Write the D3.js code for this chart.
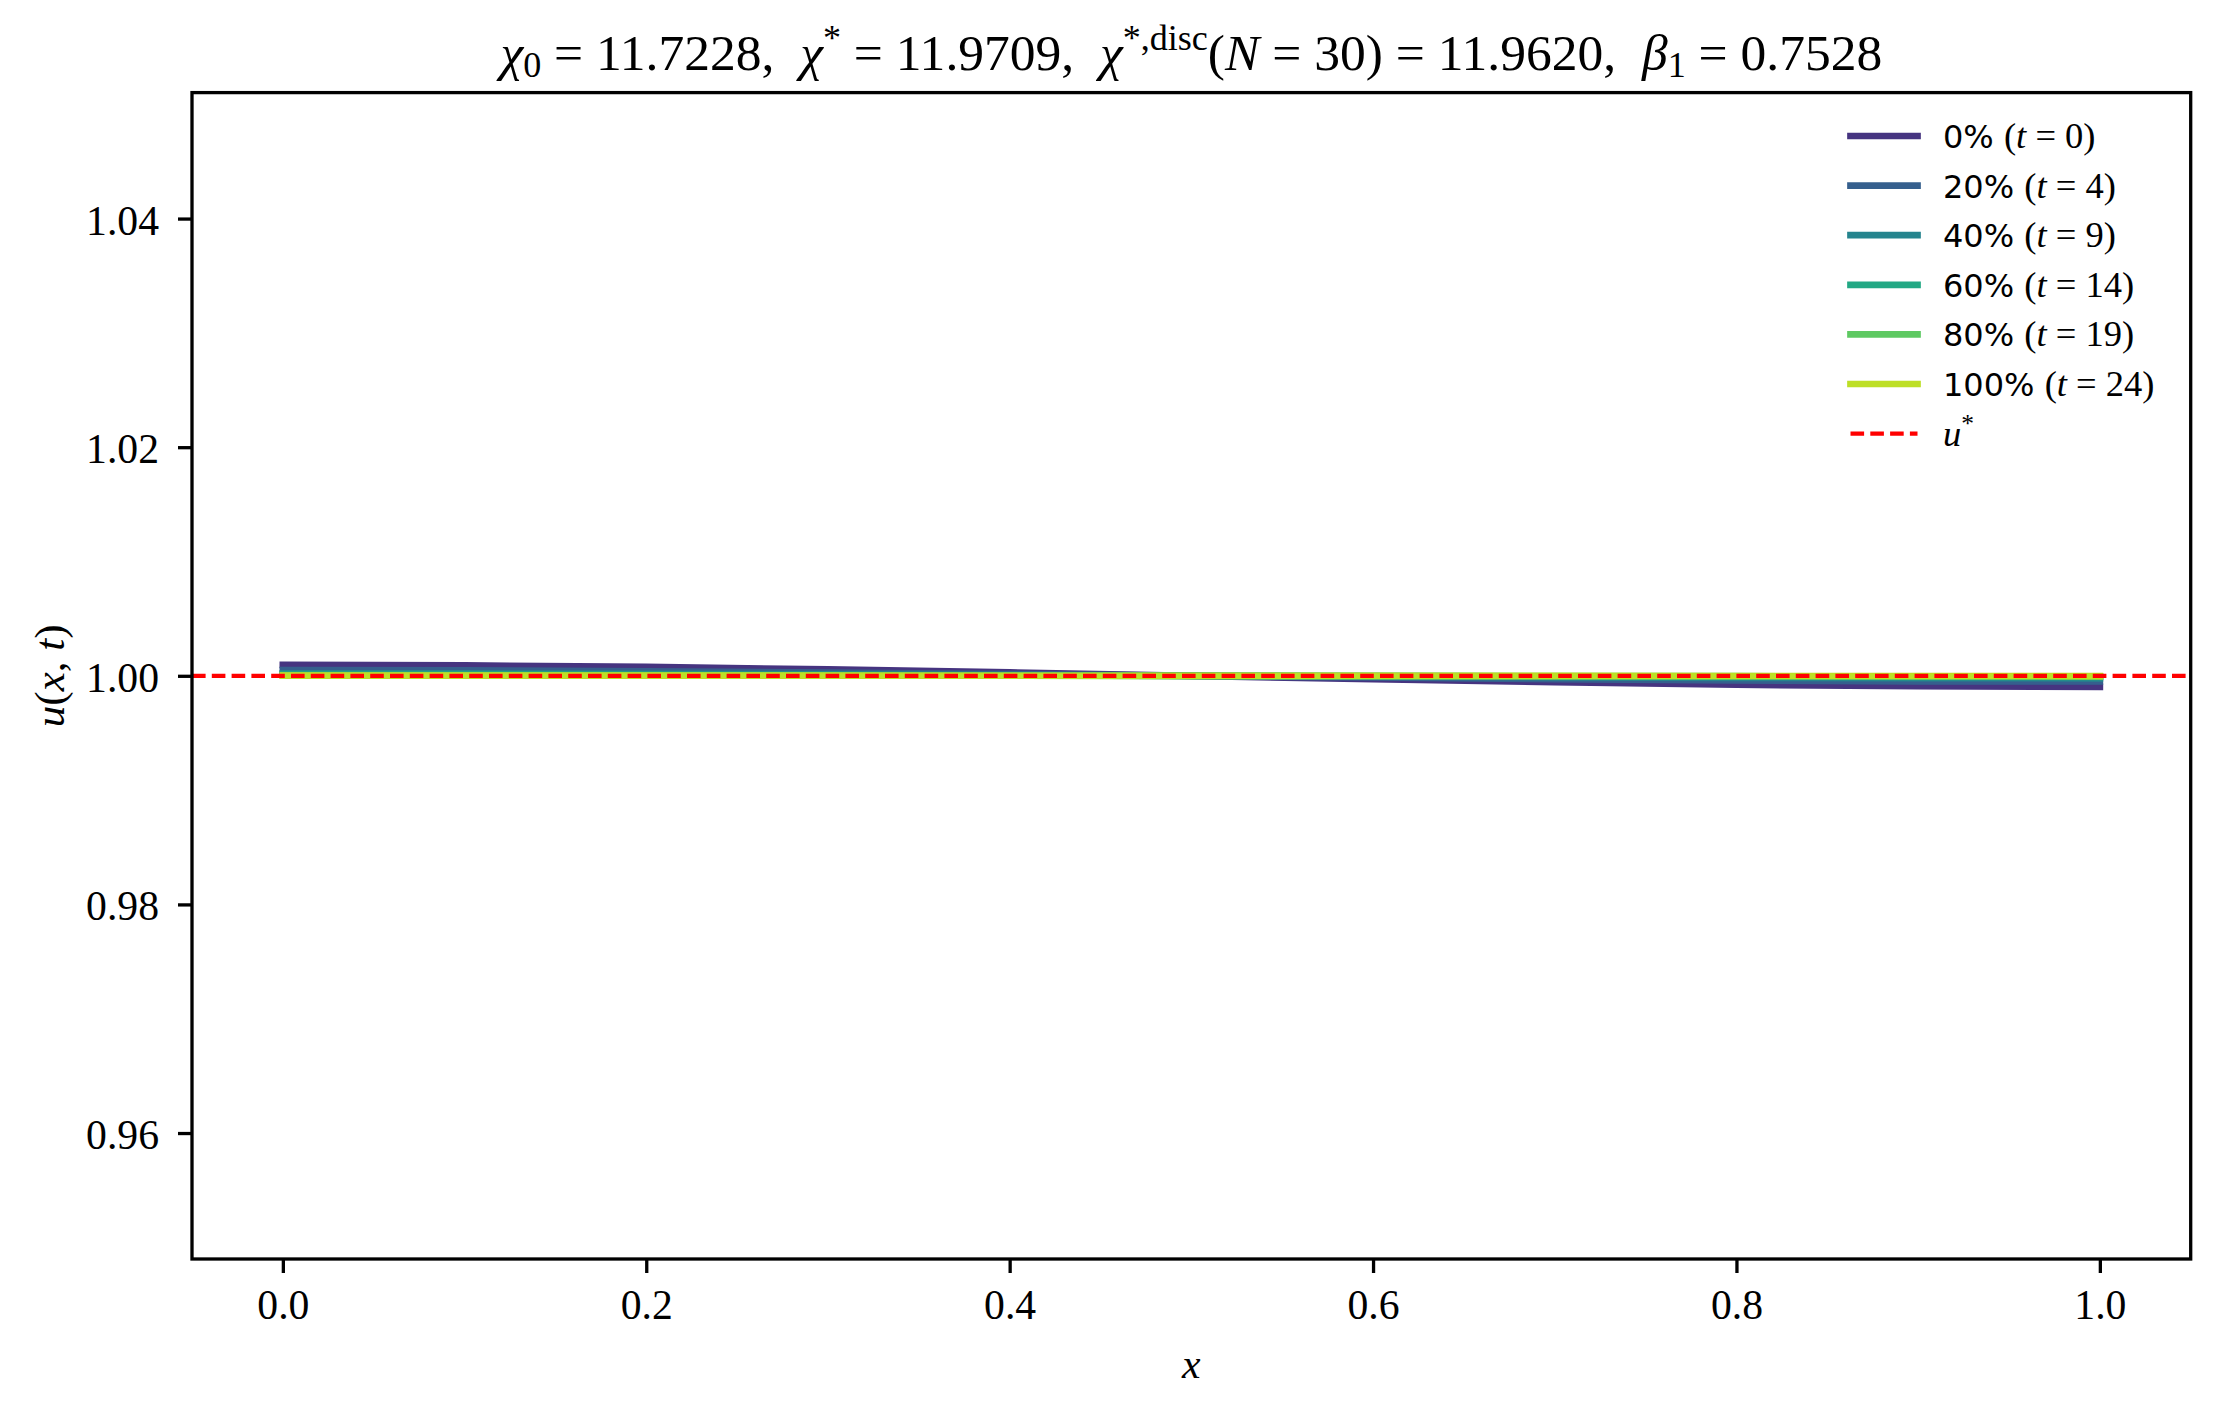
<!DOCTYPE html>
<html>
<head>
<meta charset="utf-8">
<script src="https://cdn.jsdelivr.net/npm/d3@7"></script>
<style>
  body { margin: 0; background: #fff; }
  text { white-space: pre; }
</style>
</head>
<body>
<svg id="chart" width="2220" height="1409"></svg>
<script>
// grid and profiles u(x,t)
var xGrid = [0, 0.1, 0.2, 0.3, 0.4, 0.5, 0.6, 0.7, 0.8, 0.9, 1.0];
var u_t0  = [1.00096, 1.00091, 1.00078, 1.00056, 1.00030, 1.00000, 0.99970, 0.99944, 0.99922, 0.99909, 0.99903];
var u_t4  = [1.00050, 1.00048, 1.00040, 1.00029, 1.00015, 1.00000, 0.99985, 0.99971, 0.99960, 0.99952, 0.99950];
var u_t9  = [1.00022, 1.00021, 1.00018, 1.00013, 1.00007, 1.00000, 0.99993, 0.99987, 0.99982, 0.99979, 0.99978];
var u_t14 = [1.00010, 1.00010, 1.00008, 1.00006, 1.00003, 1.00000, 0.99997, 0.99994, 0.99992, 0.99990, 0.99990];
var u_t19 = [1.000045, 1.000043, 1.000036, 1.000026, 1.000014, 1.0, 0.999986, 0.999974, 0.999964, 0.999957, 0.999955];
var u_t24 = [1.00002, 1.000019, 1.000016, 1.000012, 1.000006, 1.0, 0.999994, 0.999988, 0.999984, 0.999981, 0.99998];
var uStar = 1.0;

var pctLabels = ["0%", "20%", "40%", "60%", "80%", "100%"];
var tValues = [0, 4, 9, 14, 19, 24];
var series = [u_t0, u_t4, u_t9, u_t14, u_t19, u_t24];

var xTicks = [0.0, 0.2, 0.4, 0.6, 0.8, 1.0];
var yTicks = [0.96, 0.98, 1.00, 1.02, 1.04];

var serif = "'Liberation Serif', 'DejaVu Serif', serif";
var sans = "'DejaVu Sans', sans-serif";

var axL = 192, axR = 2190.7, axT = 92.6, axB = 1259;

var svg = d3.select('#chart');
svg.append('rect').attr('width', 2220).attr('height', 1409).attr('fill', 'white');

var x = d3.scaleLinear().domain([-0.05, 1.05]).range([axL, axR]);
var y = d3.scaleLinear().domain([0.94898, 1.05102]).range([axB, axT]);

// write text made of pieces (italic, sub, sup)
function rich(sel, parts, size) {
    var shift = 0;
    parts.forEach(function(p){
        var ts = sel.append('tspan').text(p.t);
        var target = p.sup ? -0.38*size : (p.sub ? 0.13*size : 0);
        if (target - shift !== 0) ts.attr('dy', target - shift);
        shift = target;
        if (p.sup || p.sub) ts.attr('font-size', size*0.7);
        else if (p.s) ts.attr('font-size', p.s);
        if (p.i) ts.attr('font-style', 'italic');
        if (p.f) ts.attr('font-family', p.f);
    });
}

// axes
var yAxis = svg.append('g')
    .attr('transform', 'translate(' + axL + ',0)')
    .call(d3.axisLeft(y).tickValues(yTicks).tickFormat(d3.format('.2f')).tickSize(14).tickSizeOuter(0).tickPadding(19));
var xAxis = svg.append('g')
    .attr('transform', 'translate(0,' + axB + ')')
    .call(d3.axisBottom(x).tickValues(xTicks).tickFormat(d3.format('.1f')).tickSize(14).tickSizeOuter(0));

[yAxis, xAxis].forEach(function(a){
    a.select('.domain').remove();
    a.selectAll('line').attr('stroke', 'black').attr('stroke-width', 3.3);
    a.selectAll('text').attr('font-family', serif).attr('font-size', 41.7).attr('fill', 'black');
});
yAxis.selectAll('text').attr('dy', '0.37em');
xAxis.selectAll('text').attr('y', 60).attr('dy', 0);

// profiles
var line = d3.line()
    .x(function(d, i){ return x(xGrid[i]); })
    .y(function(d){ return y(d); });

svg.append('g').selectAll('path')
    .data(series)
    .enter()
    .append('path')
        .attr('d', line)
        .attr('fill', 'none')
        .attr('stroke', function(d, i){ return d3.interpolateViridis(0.15 + 0.15*i); })
        .attr('stroke-width', 6.7)
        .attr('stroke-linecap', 'square')
        .attr('stroke-linejoin', 'round');

svg.append('line')
    .attr('x1', axL).attr('x2', axR)
    .attr('y1', y(uStar)).attr('y2', y(uStar))
    .attr('stroke', 'red')
    .attr('stroke-width', 4.2)
    .attr('stroke-dasharray', '13.6,6.2');

// frame
svg.append('rect')
    .attr('x', axL).attr('y', axT)
    .attr('width', axR - axL).attr('height', axB - axT)
    .attr('fill', 'none').attr('stroke', 'black').attr('stroke-width', 3.3);

// title
var titleParts = [
    {t:'χ', i:1}, {t:'0', sub:1}, {t:' = 11.7228,  '},
    {t:'χ', i:1}, {t:'*', sup:1}, {t:' = 11.9709,  '},
    {t:'χ', i:1}, {t:'*,disc', sup:1}, {t:'('}, {t:'N', i:1}, {t:' = 30) = 11.9620,  '},
    {t:'β', i:1}, {t:'1', sub:1}, {t:' = 0.7528'}
];
var title = svg.append('text')
    .attr('x', (axL + axR)/2).attr('y', 70)
    .attr('text-anchor', 'middle')
    .attr('font-family', serif)
    .attr('font-size', 54);
rich(title, titleParts, 54);
// stretch to the width it has in the reference
var ts = 54 * 1387 / title.node().getBBox().width;
title.attr('font-size', ts);
title.selectAll('tspan').remove();
rich(title, titleParts, ts);

// axis labels
var xl = svg.append('text')
    .attr('x', (axL + axR)/2).attr('y', 1378)
    .attr('text-anchor', 'middle')
    .attr('font-family', serif).attr('font-size', 41.7);
rich(xl, [{t:'x', i:1}], 41.7);

var yl = svg.append('text')
    .attr('transform', 'translate(64,' + ((axT + axB)/2) + ') rotate(-90)')
    .attr('text-anchor', 'middle')
    .attr('font-family', serif).attr('font-size', 43);
rich(yl, [{t:'u', i:1}, {t:'('}, {t:'x', i:1}, {t:', '}, {t:'t', i:1}, {t:')'}], 43);

// legend
var legRows = pctLabels.concat(['u*']);
var legend = svg.append('g').attr('class', 'legend')
    .selectAll('g')
    .data(legRows)
    .enter()
    .append('g')
        .attr('transform', function(d, i){ return 'translate(0,' + (136 + 49.6*i) + ')'; });

legend.append('line')
    .attr('x1', 1850.5).attr('x2', 1917.5)
    .attr('stroke', function(d, i){ return i < 6 ? d3.interpolateViridis(0.15 + 0.15*i) : 'red'; })
    .attr('stroke-width', function(d, i){ return i < 6 ? 6.7 : 4.2; })
    .attr('stroke-linecap', function(d, i){ return i < 6 ? 'square' : 'butt'; })
    .attr('stroke-dasharray', function(d, i){ return i < 6 ? null : '13.6,6.2'; });

legend.append('text')
    .attr('x', 1943).attr('y', 12)
    .attr('font-family', serif).attr('font-size', 36.5)
    .each(function(d, i){
        var t = d3.select(this);
        if (i < 6) {
            rich(t, [{t: d + ' ', f: sans, s: 32}, {t:'('}, {t:'t', i:1}, {t:' = ' + tValues[i] + ')'}], 36.5);
        } else {
            rich(t, [{t:'u', i:1}, {t:'*', sup:1}], 36.5);
        }
    });
</script>
</body>
</html>
